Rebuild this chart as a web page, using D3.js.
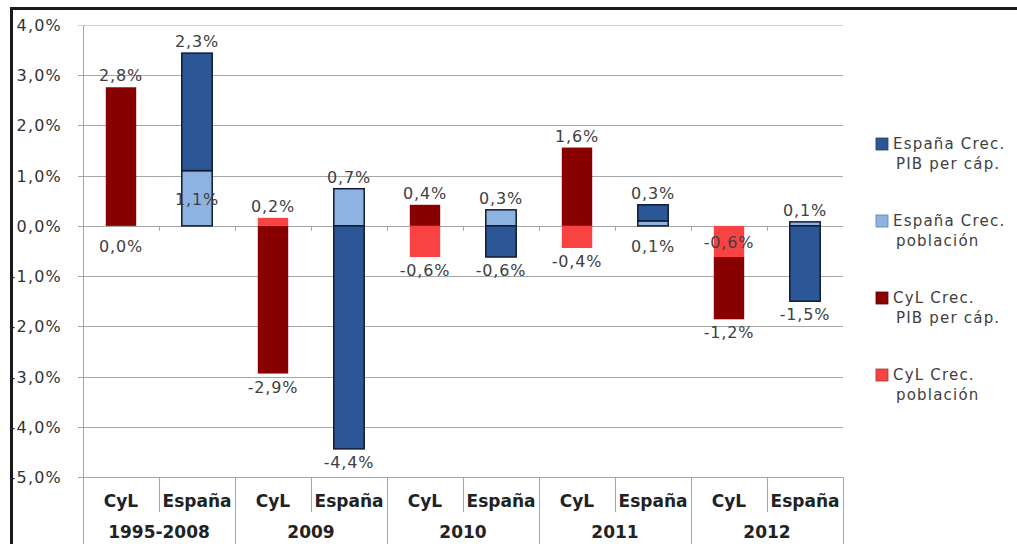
<!DOCTYPE html>
<html>
<head>
<meta charset="utf-8">
<script src="https://cdn.jsdelivr.net/npm/d3@7"></script>
<style>
  body { margin: 0; background: #fff; }
  svg { display: block; }
</style>
</head>
<body>
<div id="vis"></div>
<script>
var width = 1017,
    height = 544;

// data (%)
var groups = ["1995-2008", "2009", "2010", "2011", "2012"];
var regions = ["CyL", "España"];
var cylPob = [0.0, 0.16, -0.62, -0.44, -0.62];
var cylPib = [2.76, -2.94, 0.42, 1.56, -1.24];
var espPob = [1.1, 0.74, 0.32, 0.1, 0.08];
var espPib = [2.34, -4.44, -0.62, 0.32, -1.5];
var yTicks = [4, 3, 2, 1, 0, -1, -2, -3, -4, -5];

var legendItems = [
  { key: "espPib", lines: ["España Crec.", "PIB per cáp."] },
  { key: "espPob", lines: ["España Crec.", "población"] },
  { key: "cylPib", lines: ["CyL Crec.", "PIB per cáp."] },
  { key: "cylPob", lines: ["CyL Crec.", "población"] }
];

var colors = {
  espPib: "#2b5797",
  espPob: "#8db3e2",
  cylPib: "#880000",
  cylPob: "#f94343"
};

var numFont = "'DejaVu Sans', Verdana, sans-serif";
var fmt = function(v) { return v.toFixed(1).replace(".", ",") + "%"; };

var svg = d3.select("#vis").append("svg")
    .attr("width", width)
    .attr("height", height);

svg.append("rect").attr("width", width).attr("height", height).attr("fill", "#fff");

// columns: one per group and region
var columns = [];
groups.forEach(function(g, i) {
  columns.push({ key: g + "|CyL", group: g, region: "CyL",
    segs: [{ s: "cylPob", v: cylPob[i] }, { s: "cylPib", v: cylPib[i] }] });
  columns.push({ key: g + "|España", group: g, region: "España",
    segs: [{ s: "espPob", v: espPob[i] }, { s: "espPib", v: espPib[i] }] });
});

// stack positives up and negatives down from zero
columns.forEach(function(c) {
  var pos = 0, neg = 0;
  c.segs.forEach(function(d) {
    if (d.v >= 0) { d.y0 = pos; d.y1 = pos + d.v; pos = d.y1; }
    else { d.y0 = neg; d.y1 = neg + d.v; neg = d.y1; }
  });
  c.segs.forEach(function(d) {
    d.outer = d.v >= 0 ? d.y1 === pos && d.v > 0 : d.y1 === neg;
  });
});

var x = d3.scaleBand()
    .domain(columns.map(function(c) { return c.key; }))
    .range([83, 843])
    .paddingInner(0.6)
    .paddingOuter(0.3);

var xCell = d3.scaleBand()
    .domain(columns.map(function(c) { return c.key; }))
    .range([83, 843]);

var xGroup = d3.scaleBand()
    .domain(groups)
    .range([83, 843]);

var y = d3.scaleLinear()
    .domain([-5, 4])
    .range([477, 25]);

// gridlines
svg.append("g").selectAll("line.grid")
  .data(yTicks)
  .enter()
  .append("line")
  .attr("x1", 78)
  .attr("x2", 843)
  .attr("y1", function(d) { return Math.round(y(d)) + 0.5; })
  .attr("y2", function(d) { return Math.round(y(d)) + 0.5; })
  .attr("stroke", function(d) { return d === 4 ? "#d0d0d0" : "#a6a6a6"; })
  .attr("stroke-width", 1);

// y labels (the minus signs end up under the frame, as in the original)
svg.append("g").selectAll("text.ylab")
  .data(yTicks)
  .enter()
  .append("text")
  .attr("x", 62)
  .attr("y", function(d) { return y(d) + 6; })
  .attr("text-anchor", "end")
  .style("font-family", numFont)
  .style("font-size", "16px")
  .style("letter-spacing", "1.2px")
  .style("fill", "#333")
  .text(function(d) { return fmt(d); });

// zero line ticks at column boundaries
svg.append("g").selectAll("line.xtick")
  .data(columns.slice(1))
  .enter()
  .append("line")
  .attr("x1", function(c) { return Math.round(xCell(c.key)) + 0.5; })
  .attr("x2", function(c) { return Math.round(xCell(c.key)) + 0.5; })
  .attr("y1", y(0))
  .attr("y2", y(0) + 5)
  .attr("stroke", "#a6a6a6");

// bars
var col = svg.append("g").selectAll("g.col")
  .data(columns)
  .enter()
  .append("g")
  .attr("class", "col");

col.selectAll("rect")
  .data(function(c) { return c.segs.map(function(d) { d.col = c; return d; }); })
  .enter()
  .append("rect")
  .attr("x", function(d) { return x(d.col.key); })
  .attr("width", x.bandwidth())
  .attr("y", function(d) { return Math.min(y(d.y0), y(d.y1)); })
  .attr("height", function(d) { return Math.abs(y(d.y0) - y(d.y1)); })
  .attr("fill", function(d) { return colors[d.s]; })
  .attr("stroke", function(d) { return d.col.region === "España" ? "#111a33" : "none"; })
  .attr("stroke-width", 1.5);

// data labels
col.selectAll("text")
  .data(function(c) { return c.segs; })
  .enter()
  .append("text")
  .attr("x", function(d) { return x(d.col.key) + x.bandwidth() / 2; })
  .attr("y", function(d) {
    var top = Math.min(y(d.y0), y(d.y1)), bot = Math.max(y(d.y0), y(d.y1));
    if (d.outer) return d.v > 0 ? top - 6 : bot + 19;
    if (bot - top < 20) return y(0) + 26;
    return (top + bot) / 2 + 7;
  })
  .attr("text-anchor", "middle")
  .style("font-family", numFont)
  .style("font-size", "16px")
  .style("letter-spacing", "0.8px")
  .style("fill", "#404040")
  .text(function(d) { return fmt(d.v); });

// axis line
svg.append("line")
  .attr("x1", 83.5).attr("x2", 83.5)
  .attr("y1", 25).attr("y2", height)
  .attr("stroke", "#a6a6a6");

// category table under the plot
svg.append("g").selectAll("line.cell")
  .data(columns.slice(1))
  .enter()
  .append("line")
  .attr("x1", function(c) { return Math.round(xCell(c.key)) + 0.5; })
  .attr("x2", function(c) { return Math.round(xCell(c.key)) + 0.5; })
  .attr("y1", 477)
  .attr("y2", function(c) { return c.region === "CyL" ? height : 512; })
  .attr("stroke", "#a6a6a6");

svg.append("line")
  .attr("x1", 843.5).attr("x2", 843.5)
  .attr("y1", 477).attr("y2", height)
  .attr("stroke", "#a6a6a6");

svg.append("g").selectAll("text.cat")
  .data(columns)
  .enter()
  .append("text")
  .attr("x", function(c) { return xCell(c.key) + xCell.bandwidth() / 2; })
  .attr("y", 507)
  .attr("text-anchor", "middle")
  .style("font-family", numFont)
  .style("font-weight", "bold")
  .style("font-size", "17px")
  .style("fill", "#222")
  .text(function(c) { return c.region; });

svg.append("g").selectAll("text.grp")
  .data(groups)
  .enter()
  .append("text")
  .attr("x", function(g) { return xGroup(g) + xGroup.bandwidth() / 2; })
  .attr("y", 538)
  .attr("text-anchor", "middle")
  .style("font-family", numFont)
  .style("font-weight", "bold")
  .style("font-size", "17px")
  .style("fill", "#222")
  .text(function(g) { return g; });

// legend
var legend = svg.append("g").selectAll("g.leg")
  .data(legendItems)
  .enter()
  .append("g")
  .attr("transform", function(d, i) { return "translate(876," + (149 + i * 77) + ")"; });

legend.append("rect")
  .attr("x", 0)
  .attr("y", -11)
  .attr("width", 12)
  .attr("height", 12)
  .attr("fill", function(d) { return colors[d.key]; })
  .attr("stroke", function(d) { return d3.color(colors[d.key]).darker(1); })
  .attr("stroke-width", 0.8);

legend.selectAll("text")
  .data(function(d) { return d.lines; })
  .enter()
  .append("text")
  .attr("x", function(d, i) { return i === 0 ? 17 : 20; })
  .attr("y", function(d, i) { return i * 20; })
  .style("font-family", numFont)
  .style("font-size", "15px")
  .style("letter-spacing", "1.2px")
  .style("fill", "#404040")
  .text(function(d) { return d; });

// outer frame (right and bottom edges fall outside the picture)
svg.append("path")
  .attr("d", "M11.5," + height + "V8.5H" + width)
  .attr("fill", "none")
  .attr("stroke", "#1a1a1a")
  .attr("stroke-width", 3);
</script>
</body>
</html>
